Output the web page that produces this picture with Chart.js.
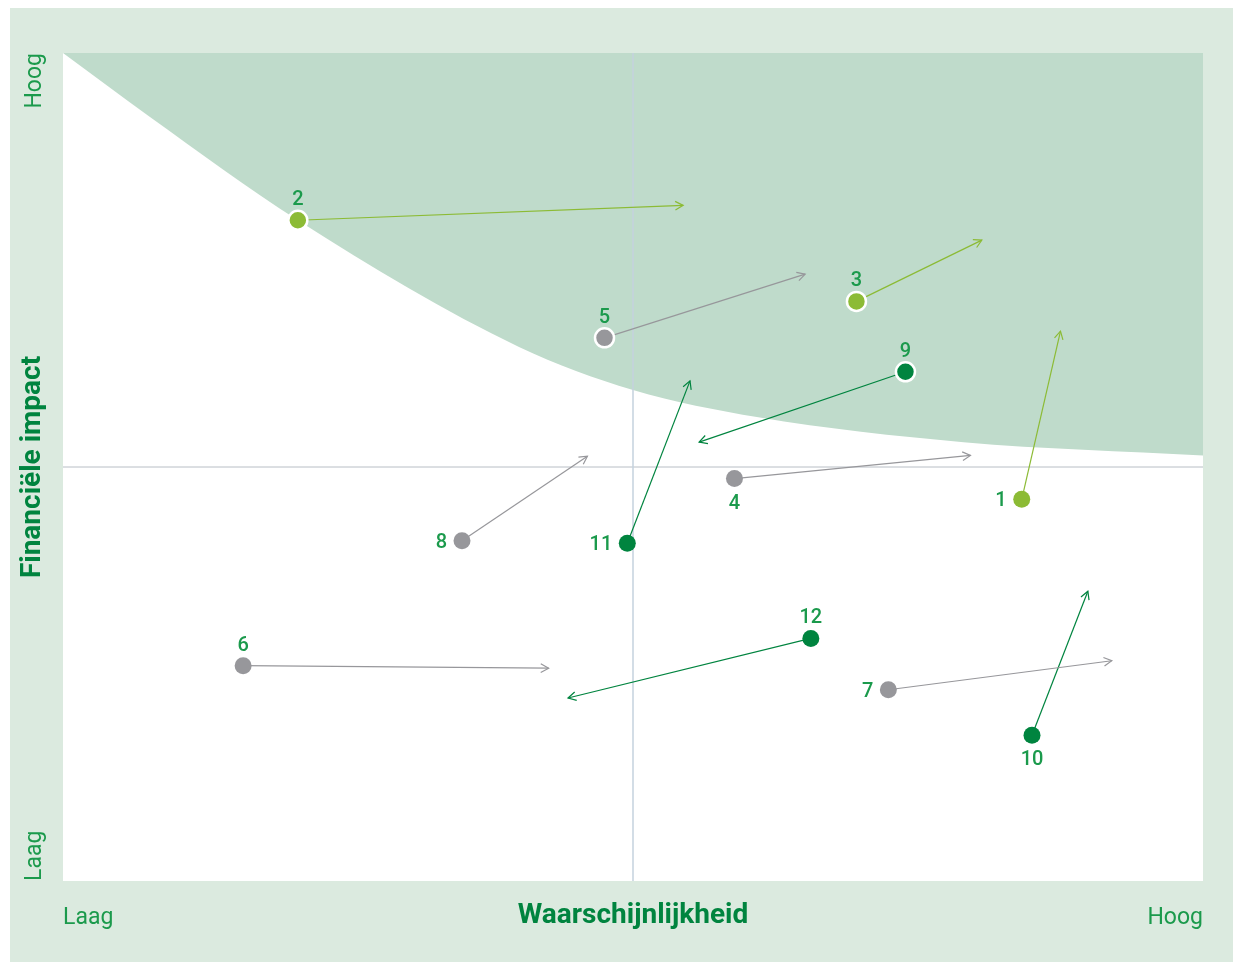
<!DOCTYPE html>
<html>
<head>
<meta charset="utf-8">
<script src="https://cdn.jsdelivr.net/npm/chart.js@4"></script>
<style>
	html, body { margin: 0; padding: 0; background: #fff; }
	#wrap { width: 1233px; height: 962px; position: relative; }
</style>
</head>
<body>
<div id="wrap"><canvas id="myChart" width="1233" height="962"></canvas></div>
<script>
// risico's: nummer, positie nu (x = waarschijnlijkheid, y = impact), pijl naar verwachte positie
const riskLabels = ["1", "2", "3", "4", "5", "6", "7", "8", "9", "10", "11", "12"];
const startX = [84.1, 20.6, 69.6, 58.9, 47.5, 15.8, 72.4, 35.0, 73.9, 85.0, 49.5, 65.6];
const startY = [46.1, 79.8, 70.0, 48.6, 65.6, 26.0, 23.1, 41.1, 61.5, 17.6, 40.8, 29.3];
const endX = [87.5, 54.4, 80.6, 79.6, 65.1, 42.6, 92.0, 46.0, 55.8, 89.9, 55.0, 44.3];
const endY = [66.4, 81.6, 77.4, 51.4, 73.3, 25.7, 26.6, 51.3, 53.0, 35.0, 60.4, 22.1];
const riskGroup = ["licht", "licht", "licht", "grijs", "grijs", "grijs", "grijs", "grijs", "donker", "donker", "donker", "donker"];
const labelPos = ["left", "above", "above", "below", "above", "above", "left", "left", "above", "below", "left", "above"];
const outlined = [false, true, true, false, true, false, false, false, true, false, false, false];

// grens van het groene vlak
const curveX = [0, 7.6, 20.6, 40, 50, 61, 79, 100];
const curveY = [100, 92.3, 79.8, 64.5, 59.3, 56.0, 53.0, 51.4];

const colors = { licht: "#8cbb35", grijs: "#97979b", donker: "#00843f" };
const textGreen = "#1b9a4c";
const fontName = "Roboto";

const datasets = [];
datasets.push({
	data: curveX.map((x, i) => ({ x: x, y: curveY[i] })),
	showLine: true,
	borderColor: "rgba(0,0,0,0)",
	borderWidth: 0,
	backgroundColor: "#bfdbcb",
	fill: "end",
	pointRadius: 0,
	cubicInterpolationMode: "monotone",
	order: 10,
});
// middenlijnen
datasets.push({
	data: [{ x: 50, y: 0 }, { x: 50, y: 100 }],
	showLine: true, borderColor: "#c4d2de", borderWidth: 1.5, pointRadius: 0, order: 9,
});
datasets.push({
	data: [{ x: 0, y: 50 }, { x: 100, y: 50 }],
	showLine: true, borderColor: "#b8bec5", borderWidth: 1, pointRadius: 0, order: 9,
});
// pijlen
for (let i = 0; i < riskLabels.length; i++) {
	datasets.push({
		data: [{ x: startX[i], y: startY[i] }, { x: endX[i], y: endY[i] }],
		showLine: true,
		borderColor: colors[riskGroup[i]],
		borderWidth: 1.2,
		pointRadius: 0,
		arrow: true,
		order: 5,
	});
}
// punten
datasets.push({
	data: startX.map((x, i) => ({ x: x, y: startY[i] })),
	showLine: false,
	pointRadius: outlined.map((o) => (o ? 9.5 : 8.5)),
	pointBackgroundColor: riskGroup.map((g) => colors[g]),
	pointBorderColor: outlined.map((o) => (o ? "#ffffff" : "rgba(0,0,0,0)")),
	pointBorderWidth: outlined.map((o) => (o ? 2.5 : 0)),
	isRisk: true,
	order: 1,
});

const backgroundPlugin = {
	id: "panel",
	beforeDraw: (chart) => {
		const ctx = chart.ctx;
		const a = chart.chartArea;
		ctx.save();
		ctx.fillStyle = "#ffffff";
		ctx.fillRect(0, 0, chart.width, chart.height);
		ctx.fillStyle = "#dbeadf";
		ctx.fillRect(10, 8, chart.width - 10, chart.height - 8);
		ctx.fillStyle = "#ffffff";
		ctx.fillRect(a.left, a.top, a.right - a.left, a.bottom - a.top);
		ctx.restore();
	},
	afterDraw: (chart) => {
		const ctx = chart.ctx;
		const a = chart.chartArea;
		ctx.save();
		ctx.fillStyle = textGreen;
		// x-as
		ctx.font = "23px " + fontName;
		ctx.textBaseline = "middle";
		ctx.textAlign = "left";
		ctx.fillText("Laag", a.left, 918);
		ctx.textAlign = "right";
		ctx.fillText("Hoog", a.right, 918);
		ctx.fillStyle = "#00843f";
		ctx.font = "bold 28px " + fontName;
		ctx.textAlign = "center";
		ctx.fillText("Waarschijnlijkheid", (a.left + a.right) / 2, 916);
		// y-as
		ctx.translate(35, 0);
		ctx.rotate(-Math.PI / 2);
		ctx.fillStyle = textGreen;
		ctx.font = "23px " + fontName;
		ctx.textAlign = "right";
		ctx.fillText("Hoog", -a.top, 0);
		ctx.textAlign = "left";
		ctx.fillText("Laag", -a.bottom, 0);
		ctx.fillStyle = "#00843f";
		ctx.font = "bold 28px " + fontName;
		ctx.textAlign = "center";
		ctx.fillText("Financiële impact", -467, -2);
		ctx.restore();
	},
	afterDatasetsDraw: (chart) => {
		const ctx = chart.ctx;
		const xs = chart.scales.x;
		const ys = chart.scales.y;
		ctx.save();
		// pijlpunten
		chart.data.datasets.forEach((ds) => {
			if (!ds.arrow) return;
			const p0 = ds.data[0];
			const p1 = ds.data[1];
			const x0 = xs.getPixelForValue(p0.x);
			const y0 = ys.getPixelForValue(p0.y);
			const x1 = xs.getPixelForValue(p1.x);
			const y1 = ys.getPixelForValue(p1.y);
			const ang = Math.atan2(y1 - y0, x1 - x0);
			const len = 9;
			ctx.strokeStyle = ds.borderColor;
			ctx.lineWidth = 1.2;
			ctx.beginPath();
			ctx.moveTo(x1 - len * Math.cos(ang - 0.5), y1 - len * Math.sin(ang - 0.5));
			ctx.lineTo(x1, y1);
			ctx.lineTo(x1 - len * Math.cos(ang + 0.5), y1 - len * Math.sin(ang + 0.5));
			ctx.stroke();
		});
		// nummers
		ctx.fillStyle = textGreen;
		ctx.font = "500 20px " + fontName;
		ctx.textBaseline = "middle";
		for (let i = 0; i < riskLabels.length; i++) {
			const px = xs.getPixelForValue(startX[i]);
			const py = ys.getPixelForValue(startY[i]);
			if (labelPos[i] === "above") {
				ctx.textAlign = "center";
				ctx.fillText(riskLabels[i], px, py - 20);
			} else if (labelPos[i] === "below") {
				ctx.textAlign = "center";
				ctx.fillText(riskLabels[i], px, py + 25);
			} else {
				ctx.textAlign = "right";
				ctx.fillText(riskLabels[i], px - 15, py + 2);
			}
		}
		ctx.restore();
	},
};

const config = {
	type: "scatter",
	data: { datasets },
	options: {
		responsive: false,
		animation: false,
		layout: { padding: { left: 63, top: 53, right: 30, bottom: 81 } },
		scales: {
			x: { type: "linear", min: 0, max: 100, display: false },
			y: { type: "linear", min: 0, max: 100, display: false },
		},
		plugins: { legend: { display: false }, tooltip: { enabled: false } },
		elements: { line: { tension: 0 } },
	},
	plugins: [backgroundPlugin],
};

const myChart = new Chart(document.getElementById("myChart"), config);
</script>
</body>
</html>
